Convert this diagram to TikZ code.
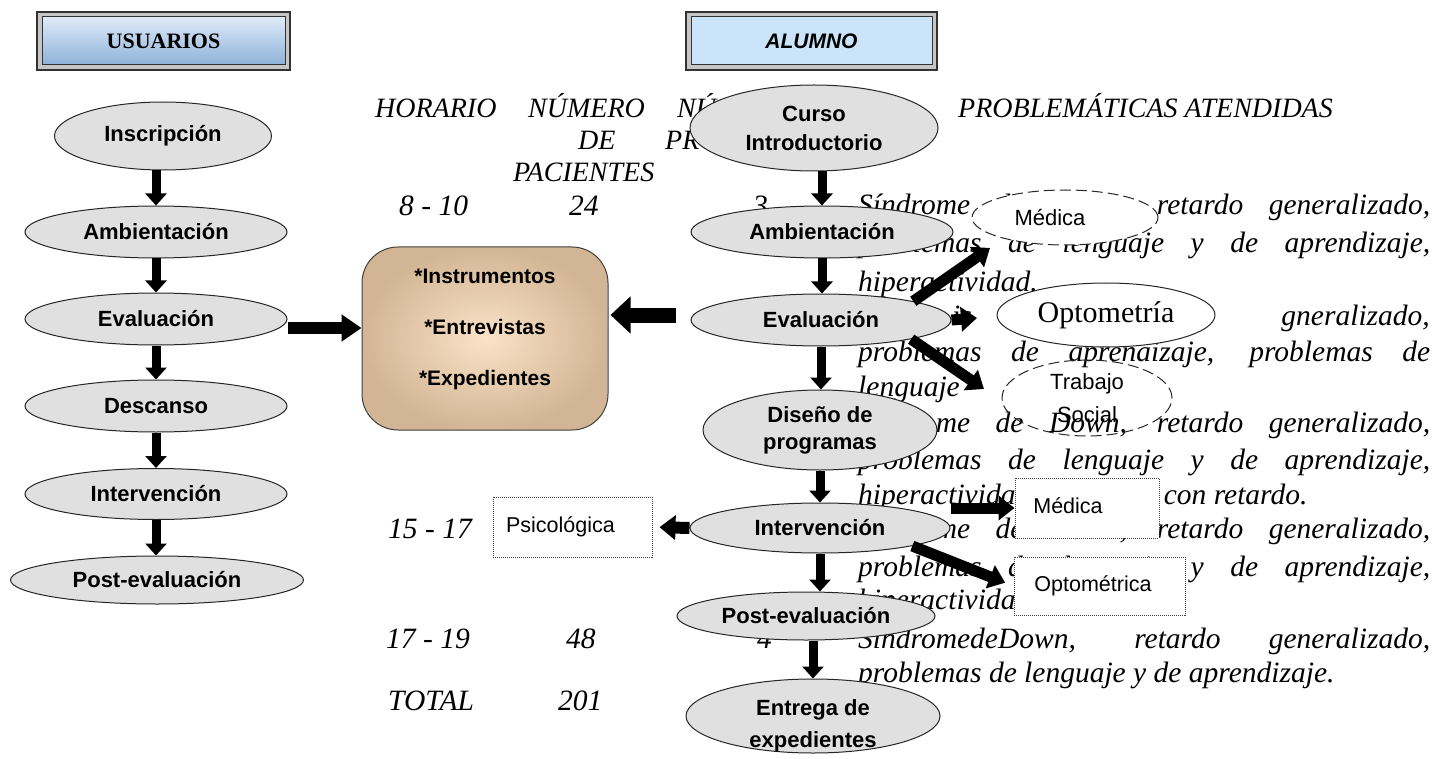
\documentclass[tikz,border=0pt]{standalone}
\usepackage{fontspec}
\setmainfont{Liberation Serif}
\setsansfont{Liberation Sans}
\usetikzlibrary{shapes.geometric,arrows.meta,calc}
\definecolor{ellfill}{HTML}{E0E0E0}
\definecolor{boxin}{HTML}{FBE3C8}
\definecolor{boxout}{HTML}{D2B594}
\definecolor{hdrtop}{HTML}{DDEAF8}
\definecolor{hdrbot}{HTML}{8FB2DA}
\definecolor{alfill}{HTML}{CCE4FA}
\begin{document}
\begin{tikzpicture}[x=1pt,y=-1pt,
  ell/.style={ellipse, draw=black!85, line width=1pt, fill=ellfill, inner sep=0pt, align=center,
    font=\sffamily\bfseries\fontsize{22}{29}\selectfont},
  side/.style={ellipse, draw=black!85, line width=1pt, fill=white, inner sep=0pt, align=center,
    font=\sffamily\fontsize{22}{33}\selectfont},
  dbox/.style={rectangle, draw=black!75, line width=1pt, densely dotted, fill=white, inner sep=0pt,
    font=\sffamily\fontsize{21.5}{25}\selectfont},
  hd/.style={inner sep=0pt, anchor=base west, font=\itshape\fontsize{28}{32}\selectfont},
  tab/.style={inner sep=0pt, anchor=base west, font=\itshape\fontsize{29.5}{32}\selectfont},
  varr/.style={line width=9pt, -{Triangle[width=21pt,length=12pt]}},
  sarr/.style={line width=11pt, -{Triangle[width=24pt,length=16pt]}},
  barra/.style={line width=12pt, -{Triangle[width=26pt,length=20pt]}},
  barrb/.style={line width=15pt, -{Triangle[width=36pt,length=20pt]}}
]
\useasboundingbox (0,0) rectangle (1437,759);

% ---------- table text (background) ----------
\node[hd] (h1) at (375,118) {HORARIO};
\node[hd] (h2) at (528,118) {NÚMERO};
\node[hd] (h3) at (578,150) {DE};
\node[hd] (h4) at (513,182) {PACIENTES};
\node[hd] (h5) at (677,118) {NÚ};
\node[hd] (h6) at (665,150) {PR};
\node[hd] (h7) at (958,118) {PROBLEMÁTICAS ATENDIDAS};

\node[tab] (r1a) at (399,216) {8 - 10};
\node[tab] (r1b) at (569,216) {24};
\node[tab] (r1c) at (753,216) {3};
\node[tab] (r4a) at (388,538) {15 - 17};
\node[tab] (r5a) at (386,648) {17 - 19};
\node[tab] (r5b) at (566,648) {48};
\node[tab] (r5c) at (757,648) {4};
\node[tab] (r6a) at (388,710) {TOTAL};
\node[tab] (r6b) at (558,710) {201};

\node[tab] (p11) at (858,215) {\makebox[572pt][s]{Síndrome de Down, retardo generalizado,}};
\node[tab] (p12) at (858,253) {\makebox[572pt][s]{problemas de lenguaje y de aprendizaje,}};
\node[tab] (p13) at (858,291) {hiperactividad.};
\node[tab] (p21) at (952,325) {is};
\node[tab,anchor=base east] (p21b) at (1430,325) {gneralizado,};
\node[tab] (p22) at (858,361) {\makebox[572pt][s]{problemas de aprenaizaje, problemas de}};
\node[tab] (p23) at (858,396) {lenguaje};
\node[tab] (p31) at (858,432) {\makebox[572pt][s]{Síndrome de Down, retardo generalizado,}};
\node[tab] (p32) at (858,469) {\makebox[572pt][s]{problemas de lenguaje y de aprendizaje,}};
\node[tab] (p33) at (858,504) {hiperactividad, pacientes con retardo.};
\node[tab] (p41) at (858,538) {\makebox[572pt][s]{Síndrome de Down, retardo generalizado,}};
\node[tab] (p42) at (858,576) {\makebox[572pt][s]{problemas de lenguaje y de aprendizaje,}};
\node[tab] (p43) at (858,609) {hiperactividad.};
\node[tab] (p51) at (858,648) {\makebox[572pt][s]{SíndromedeDown, retardo generalizado,}};
\node[tab] (p52) at (858,682) {problemas de lenguaje y de aprendizaje.};

% ---------- header boxes ----------
\node[draw=black!80, line width=1.5pt, fill=gray!45, minimum width=253pt, minimum height=58pt, inner sep=0pt] (usuo) at (163.5,41) {};
\node[draw=black!80, line width=1pt, top color=hdrtop, bottom color=hdrbot, minimum width=243pt, minimum height=48pt, inner sep=0pt,
  font=\bfseries\fontsize{22}{26}\selectfont] (usu) at (usuo.center) {USUARIOS};
\node[draw=black!80, line width=1.5pt, fill=gray!45, minimum width=251pt, minimum height=58pt, inner sep=0pt] (aluo) at (811.5,41) {};
\node[draw=black!80, line width=1pt, fill=alfill, minimum width=241pt, minimum height=48pt, inner sep=0pt,
  font=\sffamily\bfseries\itshape\fontsize{21}{25}\selectfont] (alu) at (aluo.center) {ALUMNO};

% ---------- left column ----------
\node[ell, minimum width=217pt, minimum height=68pt] (ins) at (163,136) {Inscripción};
\node[ell, minimum width=262pt, minimum height=52pt] (amb1) at (156,232) {Ambientación};
\node[ell, minimum width=262pt, minimum height=52pt] (ev1) at (156,319) {Evaluación};
\node[ell, minimum width=262pt, minimum height=52pt] (des) at (156,406) {Descanso};
\node[ell, minimum width=262pt, minimum height=51pt] (int1) at (156,494) {Intervención};
\node[ell, minimum width=293pt, minimum height=48pt] (post1) at (157,580) {Post-evaluación};

% ---------- central box ----------
\node[draw=black!75, line width=1pt, rounded corners=36pt, inner color=boxin, outer color=boxout,
  minimum width=246pt, minimum height=183pt, inner sep=0pt] (box) at (485,338.5) {};
\node[align=center, inner sep=0pt, font=\sffamily\bfseries\fontsize{21}{51}\selectfont] (boxt) at (485,329)
  {*Instrumentos\\*Entrevistas\\*Expedientes};

% ---------- right column ----------
\node[ell, minimum width=248pt, minimum height=86pt] (cur) at (814,128) {Curso\\Introductorio};
\node[ell, minimum width=262pt, minimum height=52pt] (amb2) at (822,232) {Ambientación};
\node[ell, minimum width=260pt, minimum height=52pt] (ev2) at (821,320) {Evaluación};
\node[ell, minimum width=234pt, minimum height=80pt, font=\sffamily\bfseries\fontsize{22}{27}\selectfont] (dis) at (820,430) {Diseño de\\programas};
\node[ell, minimum width=260pt, minimum height=50pt] (int2) at (820,528) {Intervención};
\node[ell, minimum width=258pt, minimum height=48pt] (post2) at (806,616) {Post-evaluación};
\node[ell, minimum width=254pt, minimum height=74pt] (ent) at (813,716) {};
\node[align=center, inner sep=0pt, font=\sffamily\bfseries\fontsize{22}{32}\selectfont] (entt) at (813,726) {Entrega de\\expedientes};

% ---------- side shapes ----------
\node[side, dash pattern=on 11pt off 5pt, minimum width=186pt, minimum height=55pt] (med1) at (1065,217.5) {Médica\hspace*{30pt}};
\node[side, font=\fontsize{30}{32}\selectfont, minimum width=218pt, minimum height=64pt] (opt1) at (1106,315) {Optometría};
\node[side, fill=none, dash pattern=on 11pt off 5pt, minimum width=170pt, minimum height=76pt] (tra) at (1087,398) {Trabajo\\Social};

\node[dbox, minimum width=159pt, minimum height=60pt] (psi) at (572.5,527) {\raisebox{4pt}{Psicológica}\hspace*{24pt}};
\node[dbox, minimum width=144pt, minimum height=60pt] (med2) at (1087,508) {\raisebox{5pt}{Médica}\hspace*{38pt}};
\node[dbox, minimum width=171pt, minimum height=58pt] (opt2) at (1099.5,586) {\raisebox{4pt}{Optométrica}\hspace*{13pt}};

% ---------- connectors ----------
\draw[varr] (ins.south -| amb1.north) -- (amb1.north);
\draw[varr] (amb1.south) -- (ev1.north);
\draw[varr] (ev1.south) -- (des.north);
\draw[varr] (des.south) -- (int1.north);
\draw[varr] (int1.south) -- (int1.south |- post1.north);

\draw[varr] (cur.south -| amb2.north) -- (amb2.north);
\draw[varr] (amb2.south) -- (amb2.south |- ev2.north);
\draw[varr] (ev2.south) -- (ev2.south |- dis.north);
\draw[varr] (dis.south) -- (int2.north);
\draw[varr] (int2.south) -- (int2.south |- post2.north);
\draw[varr] (post2.south -| ent.north) -- (ent.north);

\draw[barra] ($(ev1.east)+(0,9)$) -- ($(ev1.east -| box.west)+(0,9)$);
\draw[barrb, shorten <=15pt, shorten >=2pt] ($(ev2.west)+(0,-5)$) -- ($(ev2.west -| box.east)+(0,-5)$);

\coordinate (medtip) at (990,248);
\coordinate (opttip) at (977,318);
\coordinate (tratip) at (984,389);
\draw[sarr] (ev2.north east) -- (medtip);
\draw[sarr] (ev2.east) -- (opttip);
\draw[sarr] (ev2.-12) -- (tratip);

\draw[sarr] (int2.east |- med2.west) -- (med2.west);
\draw[sarr, shorten >=9pt] (int2.south east) -- (opt2.west);
\draw[sarr, line width=12pt, shorten >=7pt] (int2.west) -- (psi.east);
\end{tikzpicture}
\end{document}
